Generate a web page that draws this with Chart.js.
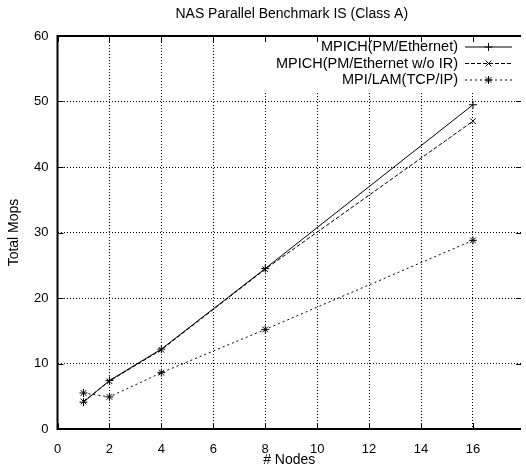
<!DOCTYPE html>
<html>
<head>
<meta charset="utf-8">
<script src="https://cdn.jsdelivr.net/npm/chart.js@4.4.0/dist/chart.umd.min.js"></script>
<style>
  html, body { margin: 0; padding: 0; background: #fff; }
  #wrap { width: 526px; height: 472px; }
</style>
</head>
<body>
<div id="wrap"><canvas id="nasChart" width="526" height="472"></canvas></div>
<script>
// data
var nodes = [1, 2, 4, 8, 16];
var mpichPM = [4.1, 7.4, 12.2, 24.5, 49.5];
var mpichNoIR = [4.2, 7.3, 12.1, 24.4, 47.0];
var mpiLam = [5.5, 4.9, 8.6, 15.2, 28.8];
var seriesNames = ['MPICH(PM/Ethernet)', 'MPICH(PM/Ethernet w/o IR)', 'MPI/LAM(TCP/IP)'];
var xTicks = [0, 2, 4, 6, 8, 10, 12, 14, 16];
var yTicks = [0, 10, 20, 30, 40, 50, 60];
var chartTitle = 'NAS Parallel Benchmark IS (Class A)';

var FONT = '"Liberation Sans", Arial, sans-serif';

function toPoints(ys) {
	return nodes.map(function(n, i) { return {x: n, y: ys[i]}; });
}

function makeSet(label, ys, dash, style) {
	return {
		label: label,
		data: toPoints(ys),
		borderColor: '#000',
		backgroundColor: '#000',
		borderWidth: 1,
		borderDash: dash,
		pointStyle: style,
		pointRadius: 4,
		pointBorderWidth: 1,
		pointBorderColor: '#000',
		tension: 0,
		fill: false
	};
}

// gnuplot-ish frame, inward ticks, title and key
var gnuplotLook = {
	id: 'gnuplotLook',
	beforeDatasetsDraw: function(chart) {
		var ctx = chart.ctx, a = chart.chartArea;
		// key box hides the grid behind it
		ctx.save();
		ctx.fillStyle = '#fff';
		ctx.fillRect(262, a.top + 2, a.right - 262, 54);
		ctx.restore();
	},
	afterDatasetsDraw: function(chart) {
		var ctx = chart.ctx, a = chart.chartArea;
		var xs = chart.scales.x, ys = chart.scales.y;
		ctx.save();
		ctx.strokeStyle = '#000';
		ctx.lineWidth = 1;
		ctx.setLineDash([]);
		ctx.beginPath();
		xTicks.forEach(function(v) {
			var px = Math.round(xs.getPixelForValue(v)) + 0.5;
			ctx.moveTo(px, a.bottom); ctx.lineTo(px, a.bottom - 6);
			ctx.moveTo(px, a.top); ctx.lineTo(px, a.top + 6);
		});
		yTicks.forEach(function(v) {
			var py = Math.round(ys.getPixelForValue(v)) + 0.5;
			ctx.moveTo(a.left, py); ctx.lineTo(a.left + 6, py);
			ctx.moveTo(a.right, py); ctx.lineTo(a.right - 5, py);
		});
		ctx.stroke();
		// border: left, bottom, top
		ctx.lineWidth = 2;
		ctx.beginPath();
		ctx.moveTo(a.right, a.top); ctx.lineTo(a.left, a.top);
		ctx.lineTo(a.left, a.bottom); ctx.lineTo(a.right, a.bottom);
		ctx.stroke();

		// key
		ctx.font = '14.5px ' + FONT;
		ctx.fillStyle = '#000';
		ctx.textAlign = 'right';
		ctx.textBaseline = 'middle';
		chart.data.datasets.forEach(function(ds, i) {
			var y = 47 + i * 16.5;
			ctx.fillText(ds.label, 458, y);
			ctx.save();
			ctx.lineWidth = 1;
			ctx.setLineDash(ds.borderDash);
			ctx.beginPath();
			ctx.moveTo(465, y); ctx.lineTo(512, y);
			ctx.stroke();
			ctx.restore();
			ctx.save();
			ctx.setLineDash([]);
			ctx.lineWidth = 1;
			Chart.helpers.drawPoint(ctx, {pointStyle: ds.pointStyle, radius: 4, rotation: 0, borderWidth: 1}, 488.5, y);
			ctx.restore();
		});

		// title
		ctx.font = '14px ' + FONT;
		ctx.textAlign = 'center';
		ctx.fillText(chartTitle, (a.left + 526) / 2, 14);
		ctx.restore();
	}
};

var ctx = document.getElementById('nasChart').getContext('2d');
var chart = new Chart(ctx, {
	type: 'line',
	data: {
		datasets: [
			makeSet(seriesNames[0], mpichPM, [], 'cross'),
			makeSet(seriesNames[1], mpichNoIR, [4, 2], 'crossRot'),
			makeSet(seriesNames[2], mpiLam, [2, 3], 'star')
		]
	},
	options: {
		responsive: false,
		animation: false,
		devicePixelRatio: 1,
		layout: {
			padding: {top: 36, right: 0, left: 0, bottom: 0}
		},
		scales: {
			x: {
				type: 'linear',
				min: 0,
				max: 17.85,
				afterBuildTicks: function(scale) {
					scale.ticks = xTicks.map(function(v) { return {value: v}; });
				},
				afterFit: function(scale) { scale.height = 43; },
				grid: {
					color: '#000',
					lineWidth: 1,
					drawTicks: false
				},
				border: {display: false, dash: [1, 2]},
				ticks: {
					color: '#000',
					padding: 13,
					maxRotation: 0,
					font: {family: FONT, size: 13}
				},
				title: {
					display: true,
					text: '# Nodes',
					color: '#000',
					padding: {top: 2, bottom: 3},
					font: {family: FONT, size: 14}
				}
			},
			y: {
				min: 0,
				max: 60,
				afterBuildTicks: function(scale) {
					scale.ticks = yTicks.map(function(v) { return {value: v}; });
				},
				afterFit: function(scale) { scale.width = 57.5; },
				grid: {
					color: '#000',
					lineWidth: 1,
					drawTicks: false
				},
				border: {display: false, dash: [1, 2]},
				ticks: {
					color: '#000',
					padding: 9,
					font: {family: FONT, size: 13}
				},
				title: {
					display: true,
					text: 'Total Mops',
					color: '#000',
					padding: {top: 6, bottom: 0},
					font: {family: FONT, size: 14}
				}
			}
		},
		plugins: {
			legend: {display: false},
			title: {display: false},
			tooltip: {enabled: false}
		}
	},
	plugins: [gnuplotLook]
});
</script>
</body>
</html>
